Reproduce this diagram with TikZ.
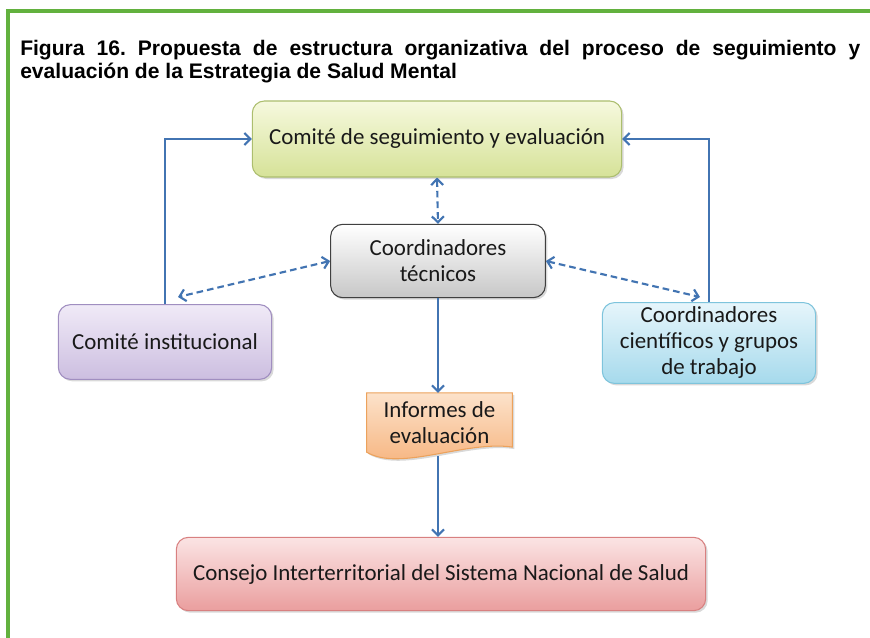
\documentclass[tikz,border=0pt]{standalone}
\usepackage{fontspec}
\setmainfont{Carlito}
\newfontfamily\titlefont{Liberation Sans}
\usetikzlibrary{arrows.meta,shadows,positioning,calc,backgrounds}
\definecolor{linea}{RGB}{66,116,178}
\definecolor{marco}{RGB}{98,177,62}
\tikzset{
    >={Straight Barb[length=4.5pt,width=9pt]},
    sombra/.style={drop shadow={opacity=0.3, shadow xshift=1.5pt, shadow yshift=-1.5pt}},
    caja/.style={rectangle, rounded corners=9pt, draw, line width=0.8pt, align=center,
        text=black!90, font=\fontsize{17.2}{19.5}\selectfont, sombra},
    seguim/.style={caja, draw={rgb,255:red,172;green,190;blue,110}, top color={rgb,255:red,246;green,249;blue,222}, bottom color={rgb,255:red,214;green,226;blue,152}},
    tecnico/.style={caja, draw=black!75, top color=white, bottom color=black!22},
    instit/.style={caja, draw={rgb,255:red,160;green,142;blue,192}, top color={rgb,255:red,240;green,234;blue,247}, bottom color={rgb,255:red,204;green,190;blue,224}},
    cientif/.style={caja, draw={rgb,255:red,126;green,196;blue,220}, top color={rgb,255:red,230;green,245;blue,251}, bottom color={rgb,255:red,166;green,218;blue,236}},
    informe/.style={rectangle, align=center, text=black!90, font=\fontsize{17.2}{19.5}\selectfont},
    hoja/.style={draw={rgb,255:red,236;green,162;blue,92}, line width=0.8pt, sombra,
        top color={rgb,255:red,252;green,226;blue,202}, bottom color={rgb,255:red,246;green,176;blue,120}},
    consejo/.style={caja, draw={rgb,255:red,216;green,128;blue,128}, top color={rgb,255:red,251;green,228;blue,228}, bottom color={rgb,255:red,234;green,158;blue,158}},
    flujo/.style={draw=linea, line width=1.6pt, ->},
    enlace/.style={draw=linea, line width=1.6pt, dash pattern=on 5pt off 3pt, <->}
}

\begin{document}
\begin{tikzpicture}[x=0.75pt, y=-0.75pt]
    \useasboundingbox (0,0) rectangle (870,638);
    \draw[marco, line width=2.4pt] (8,638) -- (8,11) -- (870,11);

    \node[anchor=north west, inner sep=0pt, text width=630pt, align=justify,
          font=\titlefont\bfseries\fontsize{15.8}{17.5}\selectfont] (titulo) at (20,40)
        {\frenchspacing Figura 16. Propuesta de estructura organizativa del proceso de seguimiento y\linebreak evaluación de la Estrategia de Salud Mental};

    \node[seguim, minimum width=277pt, minimum height=57pt] (seg) at (437,139) {Comité de seguimiento y evaluación};
    \node[tecnico, minimum width=161pt, minimum height=55pt] (tec) at (438,261) {Coordinadores\\técnicos};
    \node[instit, minimum width=160pt, minimum height=56pt] (inst) at (165,342) {Comité institucional};
    \node[cientif, minimum width=160pt, minimum height=57pt] (cient) at (709,343) {Coordinadores\\científicos y grupos\\de trabajo};
    \node[informe, minimum width=109pt, minimum height=44pt] (inf) at (439.5,422.5) {Informes de\\evaluación};
    \node[consejo, minimum width=397pt, minimum height=55pt] (cons) at (441,574) {Consejo Interterritorial del Sistema Nacional de Salud};

    \begin{scope}[on background layer]
        \path[hoja] (inf.north west) -- (inf.north east) -- ($(inf.south east)+(0,-5)$)
            .. controls ($(inf.south east)+(-47,-12)$) and ($(inf.south west)+(33,20)$) .. (inf.south west) -- cycle;
    \end{scope}

    \coordinate (pinst) at (178,297);
    \coordinate (pcient) at (700,297);

    \path[flujo] (inst.north) |- (seg.west);
    \path[flujo] (cient.north) |- (seg.east);
    \path[enlace] (seg.south) -- (tec.north);
    \path[enlace] (tec.west) -- (pinst);
    \path[enlace] (tec.east) -- (pcient);
    \path[flujo] (tec.south) -- (tec.south |- inf.north);
    \path[flujo] ($(tec.south |- inf.south)+(0,4)$) -- (tec.south |- cons.north);
\end{tikzpicture}
\end{document}
